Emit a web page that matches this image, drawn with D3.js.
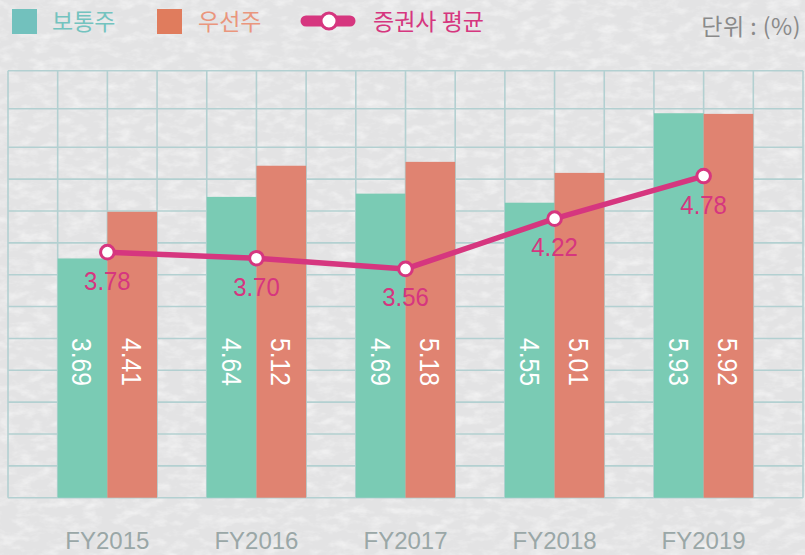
<!DOCTYPE html>
<html>
<head>
<meta charset="utf-8">
<script src="https://cdn.jsdelivr.net/npm/d3@7"></script>
<style>
  html, body { margin: 0; padding: 0; background: #e6e6e7; }
  svg { display: block; }
</style>
</head>
<body>
<div id="chart"></div>
<script>
// 데이터
const years = ["FY2015", "FY2016", "FY2017", "FY2018", "FY2019"];
const common = [3.69, 4.64, 4.69, 4.55, 5.93];     // 보통주
const preferred = [4.41, 5.12, 5.18, 5.01, 5.92];  // 우선주
const brokerAvg = [3.78, 3.70, 3.56, 4.22, 4.78];  // 증권사 평균
const seriesNames = ["보통주", "우선주", "증권사 평균"];
const unitLabel = "단위 : (%)";

const W = 805, H = 555;
const gridLeft = 8, gridRight = 803, gridTop = 70.7, baseline = 497.7;
const col = (gridRight - gridLeft) / 16;

const svg = d3.select("#chart").append("svg")
    .attr("width", W)
    .attr("height", H);

// 종이 질감
const defs = svg.append("defs");
const paper = defs.append("filter").attr("id", "paper")
    .attr("x", 0).attr("y", 0).attr("width", "100%").attr("height", "100%");
paper.append("feTurbulence")
    .attr("type", "fractalNoise")
    .attr("baseFrequency", "0.06 0.12")
    .attr("numOctaves", 4)
    .attr("seed", 7);
paper.append("feColorMatrix")
    .attr("values", "0 0 0 0 1  0 0 0 0 1  0 0 0 0 1  0 0 0 -1.1 0.62");

svg.append("rect").attr("width", W).attr("height", H).attr("fill", "#e3e3e4");
svg.append("rect").attr("width", W).attr("height", H).attr("filter", "url(#paper)");

// 스케일
const x = d3.scaleBand()
    .domain(years)
    .range([gridLeft + col, gridLeft + 15 * col])
    .paddingInner(1 / 3)
    .paddingOuter(0);
const xSub = d3.scaleBand()
    .domain(["common", "preferred"])
    .range([0, x.bandwidth()]);
const yBar = d3.scaleLinear().domain([0, 6]).range([baseline, 108.7]);
const yLine = d3.scaleLinear().domain([3, 5]).range([311.5, 159.3]);

// 모눈 배경
const grid = svg.append("g").attr("stroke", "#b3d0d1").attr("stroke-width", 1.6);
grid.selectAll("line.v")
    .data(d3.range(17))
    .join("line")
    .attr("class", "v")
    .attr("x1", k => gridLeft + k * col)
    .attr("x2", k => gridLeft + k * col)
    .attr("y1", gridTop)
    .attr("y2", baseline);
const hLines = [gridTop, yBar(6)].concat(d3.range(12).map(j => 147.3 + j * (baseline - 147.3) / 11));
grid.selectAll("line.h")
    .data(hLines)
    .join("line")
    .attr("class", "h")
    .attr("x1", gridLeft)
    .attr("x2", gridRight)
    .attr("y1", d => d)
    .attr("y2", d => d);

// 막대
const barColors = { common: "#7acbb4", preferred: "#e08371" };
const rows = years.map((y, i) => ({ year: y, common: common[i], preferred: preferred[i], avg: brokerAvg[i] }));
const numFont = "'Liberation Sans', Arial, sans-serif";

const groups = svg.append("g").selectAll("g")
    .data(rows)
    .join("g")
    .attr("transform", d => `translate(${x(d.year)},0)`);

groups.selectAll("rect")
    .data(d => ["common", "preferred"].map(k => ({ key: k, value: d[k] })))
    .join("rect")
    .attr("x", d => xSub(d.key))
    .attr("width", xSub.bandwidth())
    .attr("y", d => yBar(d.value))
    .attr("height", d => baseline - yBar(d.value))
    .attr("fill", d => barColors[d.key]);

groups.selectAll("text")
    .data(d => ["common", "preferred"].map(k => ({ key: k, value: d[k] })))
    .join("text")
    .attr("transform", d => `translate(${xSub(d.key) + xSub.bandwidth() / 2},362) rotate(90) scale(0.88,1)`)
    .attr("text-anchor", "middle")
    .attr("dy", "0.36em")
    .attr("fill", "#ffffff")
    .style("font-family", numFont)
    .style("font-size", "28px")
    .text(d => d.value.toFixed(2));

// 증권사 평균 선
const magenta = "#d6367f";
const lineX = d => x(d.year) + x.bandwidth() / 2;
svg.append("path")
    .datum(rows)
    .attr("fill", "none")
    .attr("stroke", magenta)
    .attr("stroke-width", 5.5)
    .attr("stroke-linejoin", "round")
    .attr("d", d3.line().x(lineX).y(d => yLine(d.avg)));

svg.append("g").selectAll("circle")
    .data(rows)
    .join("circle")
    .attr("cx", lineX)
    .attr("cy", d => yLine(d.avg))
    .attr("r", 6.8)
    .attr("fill", "#ffffff")
    .attr("stroke", magenta)
    .attr("stroke-width", 3);

svg.append("g").selectAll("text")
    .data(rows)
    .join("text")
    .attr("transform", d => `translate(${lineX(d)},${yLine(d.avg) + 37.5}) scale(0.92,1)`)
    .attr("text-anchor", "middle")
    .attr("fill", magenta)
    .style("font-family", numFont)
    .style("font-size", "26px")
    .text(d => d.avg.toFixed(2));

// x축 라벨
svg.append("g").selectAll("text")
    .data(years)
    .join("text")
    .attr("x", d => x(d) + x.bandwidth() / 2)
    .attr("y", 549)
    .attr("text-anchor", "middle")
    .attr("fill", "#9aa7a7")
    .style("font-family", numFont)
    .style("font-size", "24px")
    .text(d => d);

// 범례
const kfont = "'Noto Sans CJK KR', 'Noto Sans', sans-serif";
const legend = svg.append("g");
legend.append("rect").attr("x", 12).attr("y", 9).attr("width", 25).attr("height", 25).attr("fill", "#72c1bd");
legend.append("text").attr("x", 52).attr("y", 30).attr("fill", "#74c3bf")
    .style("font-family", kfont).style("font-size", "23px").text(seriesNames[0]);
legend.append("rect").attr("x", 157).attr("y", 9).attr("width", 25).attr("height", 25).attr("fill", "#e07c5d");
legend.append("text").attr("x", 198).attr("y", 30).attr("fill", "#ea967d")
    .style("font-family", kfont).style("font-size", "23px").text(seriesNames[1]);
legend.append("line").attr("x1", 306).attr("x2", 350).attr("y1", 21).attr("y2", 21)
    .attr("stroke", magenta).attr("stroke-width", 11).attr("stroke-linecap", "round");
legend.append("circle").attr("cx", 329).attr("cy", 21).attr("r", 8)
    .attr("fill", "#ffffff").attr("stroke", magenta).attr("stroke-width", 3);
legend.append("text").attr("x", 373).attr("y", 30).attr("fill", magenta)
    .style("font-family", kfont).style("font-size", "23px").text(seriesNames[2]);

svg.append("text").attr("x", 801).attr("y", 35).attr("text-anchor", "end").attr("fill", "#8a8a8a")
    .style("font-family", kfont).style("font-size", "23px")
    .style("letter-spacing", "0.5px").text(unitLabel);
</script>
</body>
</html>
